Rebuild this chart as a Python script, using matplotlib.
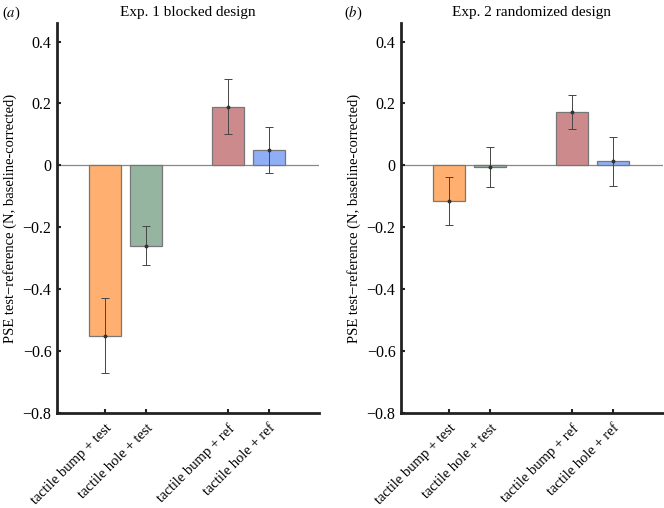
import numpy as np
import matplotlib
matplotlib.use('Agg')
import matplotlib.pyplot as plt

plt.rcParams['font.family'] = ['Liberation Serif', 'DejaVu Serif']
plt.rcParams['mathtext.fontset'] = 'stix'

conditions = ['tactile bump + test', 'tactile hole + test',
              'tactile bump + ref', 'tactile hole + ref']
positions = [0, 1, 3, 4]
bar_colors = ['#FFB070', '#95B5A0', '#CD8A8C', '#8FAEF6']

titles = ['Exp. 1 blocked design', 'Exp. 2 randomized design']
panel_labels = ['(a)', '(b)']

# PSE means and error half-widths
exp1_mean = [-0.55, -0.26, 0.19, 0.05]
exp1_err = [0.12, 0.063, 0.09, 0.075]
exp2_mean = [-0.115, -0.005, 0.173, 0.013]
exp2_err = [0.078, 0.066, 0.054, 0.078]

means = [exp1_mean, exp2_mean]
errs = [exp1_err, exp2_err]

fig = plt.figure(figsize=(6.64, 5.08), dpi=100)
ax_left = [57 / 664, 401 / 664]

for i in range(2):
    ax = fig.add_axes([ax_left[i], (508 - 413) / 508, 262 / 664, 390 / 508])
    ax.axhline(0, color='#888888', lw=0.9, zorder=1)
    ax.bar(positions, means[i], width=0.8, color=bar_colors,
           edgecolor='#777777', linewidth=0.9, zorder=2)
    ax.errorbar(positions, means[i], yerr=errs[i], fmt='o', ms=1.8,
                color='#333333', ecolor='#444444', elinewidth=0.7,
                capsize=3, capthick=0.7, zorder=3)
    ax.set_xlim(-1.17, 5.22)
    ax.set_ylim(-0.8, 0.46)
    ax.set_yticks([-0.8, -0.6, -0.4, -0.2, 0, 0.2, 0.4])
    ax.set_yticklabels(['\u22120.8', '\u22120.6', '\u22120.4', '\u22120.2',
                        '0', '0.2', '0.4'])
    ax.set_xticks(positions)
    ax.set_xticklabels(conditions, rotation=45, ha='right',
                       rotation_mode='anchor')
    ax.tick_params(direction='in', length=3, width=1.5, labelsize=10.5,
                   color='#222222', pad=6)
    ax.tick_params(axis='y', labelsize=11.5, pad=4)
    for s in ['top', 'right']:
        ax.spines[s].set_visible(False)
    for s in ['left', 'bottom']:
        ax.spines[s].set_linewidth(2)
        ax.spines[s].set_color('#222222')
    ax.set_ylabel('PSE test\u2212reference (N, baseline-corrected)',
                  fontsize=10.5, labelpad=4)
    ax.set_title(titles[i], fontsize=11, pad=5)

fig.text(2 / 664, 1 - 13 / 508, '($a$)', fontsize=10.5, va='center')
fig.text(344 / 664, 1 - 13 / 508, '($b$)', fontsize=10.5, va='center')

fig.savefig('out.png', dpi=100)
